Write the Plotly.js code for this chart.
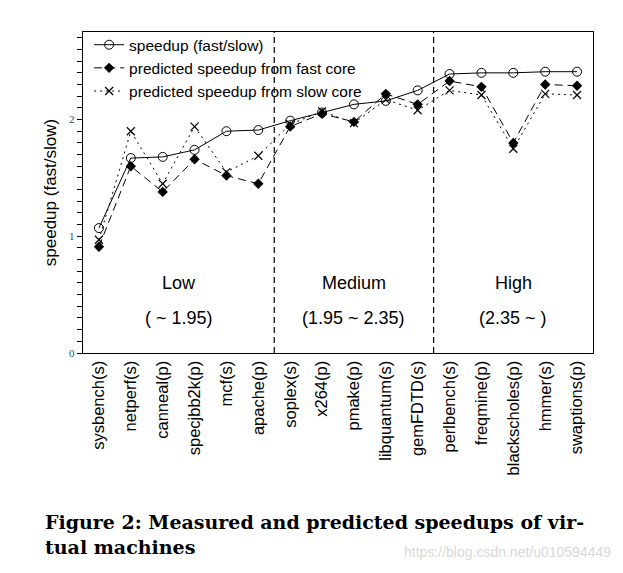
<!DOCTYPE html>
<html>
<head>
<meta charset="utf-8">
<script src="https://cdn.plot.ly/plotly-3.0.1.min.js"></script>
<style>html,body{margin:0;padding:0;background:#fff;}#chart{width:623px;height:573px;}</style>
</head>
<body>
<div id="chart"></div>
<script>
const categories = ["sysbench(s)","netperf(s)","canneal(p)","specjbb2k(p)","mcf(s)","apache(p)","soplex(s)","x264(p)","pmake(p)","libquantum(s)","gemFDTD(s)","perlbench(s)","freqmine(p)","blackscholes(p)","hmmer(s)","swaptions(p)"];
const speedup =      [1.07,1.67,1.68,1.74,1.90,1.91,1.99,2.06,2.13,2.16,2.25,2.39,2.40,2.40,2.41,2.41];
const predFast =     [0.91,1.60,1.38,1.66,1.52,1.45,1.94,2.05,1.98,2.22,2.13,2.33,2.28,1.80,2.30,2.29];
const predSlow =     [0.97,1.90,1.45,1.94,1.55,1.69,1.96,2.07,1.97,2.17,2.08,2.25,2.21,1.75,2.22,2.21];
const seriesNames = ["speedup (fast/slow)","predicted speedup from fast core","predicted speedup from slow core"];
const groupNames = ["Low","Medium","High"];
const groupRanges = ["( ~ 1.95)","(1.95 ~ 2.35)","(2.35 ~ )"];
const groupFirst = [0,6,11];
const groupLast = [5,10,15];
const yTickVals = [0,0.1,0.2,0.3,0.4,0.5,0.6,0.7,0.8,0.9,1,1.1,1.2,1.3,1.4,1.5,1.6,1.7,1.8,1.9,2,2.1,2.2,2.3,2.4,2.5,2.6,2.7];
const yTickText = yTickVals.map(v => (Math.abs(v - Math.round(v)) < 1e-9) ? String(Math.round(v)) : "");
const caption = ["Figure 2: Measured and predicted speedups of vir-","tual machines"];
const watermark = "https://blog.csdn.net/u010594449";

const idx = categories.map((_, i) => i);
const traces = [
  {x: idx, y: speedup, name: seriesNames[0], mode: "lines+markers", type: "scatter",
   line: {color: "#000", width: 1, dash: "solid"},
   marker: {symbol: "circle-open", size: 9, color: "#000", line: {width: 1, color: "#000"}}},
  {x: idx, y: predFast, name: seriesNames[1], mode: "lines+markers", type: "scatter",
   line: {color: "#000", width: 1, dash: "8px,5px"},
   marker: {symbol: "diamond", size: 8, color: "#000"}},
  {x: idx, y: predSlow, name: seriesNames[2], mode: "lines+markers", type: "scatter",
   line: {color: "#000", width: 1, dash: "2px,4px"},
   marker: {symbol: "x-thin-open", size: 8, color: "#000", line: {width: 1.2, color: "#000"}}}
];

const shapes = [];
for (let g = 0; g < groupFirst.length - 1; g++) {
  const b = (groupLast[g] + groupFirst[g + 1]) / 2;
  shapes.push({type: "line", xref: "x", yref: "paper", x0: b, x1: b, y0: 0, y1: 1,
    line: {color: "#000", width: 1.2, dash: "6px,4px"}});
}

const annotations = [];
groupNames.forEach((n, g) => {
  const c = (groupFirst[g] + groupLast[g]) / 2;
  annotations.push({x: c, y: 0.60, xref: "x", yref: "y", text: n, showarrow: false,
    font: {family: "Liberation Sans, Arial, sans-serif", size: 18, color: "#000"}});
  annotations.push({x: c, y: 0.30, xref: "x", yref: "y", text: groupRanges[g], showarrow: false,
    font: {family: "Liberation Sans, Arial, sans-serif", size: 18, color: "#000"}});
});
annotations.push({x: -0.078, y: -0.525, xref: "paper", yref: "paper", xanchor: "left", yanchor: "middle",
  text: "<b>" + caption[0] + "</b>", showarrow: false,
  font: {family: "DejaVu Serif, Liberation Serif, serif", size: 19, color: "#000"}});
annotations.push({x: -0.078, y: -0.603, xref: "paper", yref: "paper", xanchor: "left", yanchor: "middle",
  text: "<b>" + caption[1] + "</b>", showarrow: false,
  font: {family: "DejaVu Serif, Liberation Serif, serif", size: 19, color: "#000"}});
annotations.push({x: 1.04, y: -0.62, xref: "paper", yref: "paper", xanchor: "right", yanchor: "middle",
  text: watermark, showarrow: false,
  font: {family: "Liberation Sans, Arial, sans-serif", size: 14, color: "#d8d8d8"}});

const layout = {
  width: 623, height: 573,
  margin: {l: 83, r: 30, t: 32, b: 220},
  paper_bgcolor: "#fff", plot_bgcolor: "#fff",
  showlegend: true,
  legend: {x: 0.012, y: 1.012, xanchor: "left", yanchor: "top", bgcolor: "rgba(0,0,0,0)",
    font: {family: "Liberation Sans, Arial, sans-serif", size: 15.5, color: "#000"},
    tracegroupgap: 0, itemwidth: 30},
  xaxis: {range: [-0.5, 15.5], tickmode: "array", tickvals: idx, ticktext: categories,
    tickangle: -90, ticks: "", showgrid: false, zeroline: false,
    showline: true, linecolor: "#000", linewidth: 1.2, mirror: true,
    tickfont: {family: "Liberation Sans, Arial, sans-serif", size: 16.5, color: "#000"}},
  yaxis: {range: [0, 2.75], tickmode: "array", tickvals: yTickVals, ticktext: yTickText,
    ticks: "outside", ticklen: 5, tickcolor: "#000", tickwidth: 1,
    showgrid: false, zeroline: false,
    showline: true, linecolor: "#000", linewidth: 1.2, mirror: true,
    tickfont: {family: "Liberation Serif, DejaVu Serif, serif", size: 11, color: "#2e4f73"},
    title: {text: "speedup (fast/slow)", standoff: 8,
      font: {family: "Liberation Sans, Arial, sans-serif", size: 17, color: "#000"}}},
  shapes: shapes,
  annotations: annotations
};

Plotly.newPlot("chart", traces, layout, {displayModeBar: false, staticPlot: true});
</script>
</body>
</html>
